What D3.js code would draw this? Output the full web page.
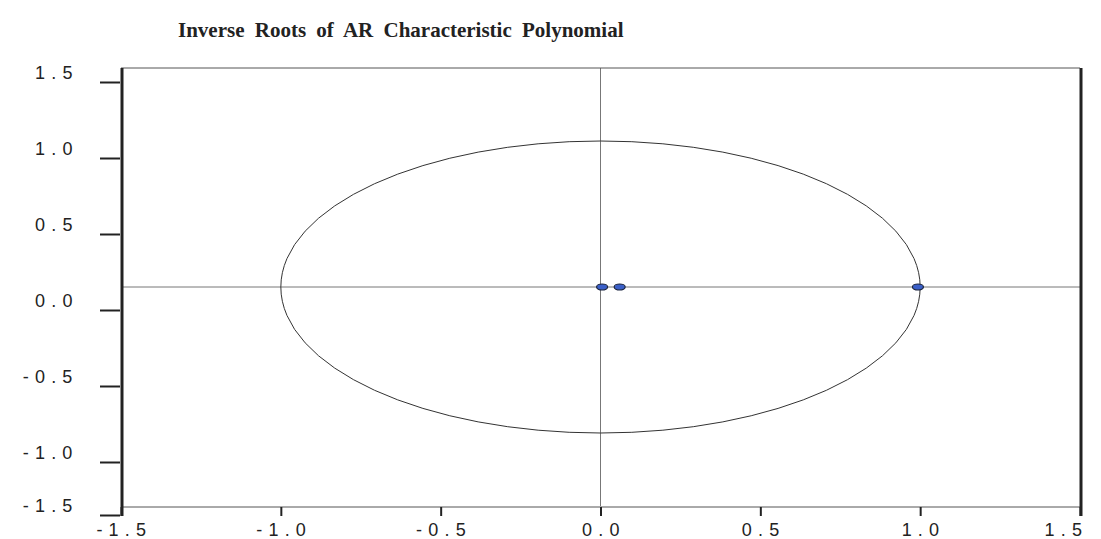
<!DOCTYPE html>
<html>
<head>
<meta charset="utf-8" />
<script src="https://cdn.jsdelivr.net/npm/d3@7"></script>
<style>
  body{ margin:0; background:#fff; }
  .tick text{ font-family:"Liberation Sans", Arial, sans-serif; font-size:18px; fill:#222; letter-spacing:0.6px; }
</style>
</head>
<body>
<script>
// - - - - - DATA - - - - - //
var title = "Inverse Roots of AR Characteristic Polynomial";
// inverse roots (real, imaginary)
var rootRe = [0.005, 0.06, 0.993];
var rootIm = [0, 0, 0];
var xTicks = [-1.5, -1.0, -0.5, 0.0, 0.5, 1.0, 1.5];
var yTicks = [-1.5, -1.0, -0.5, 0.0, 0.5, 1.0, 1.5];

// - - - - - CANVAS - - - - - //
var w = 1101, h = 539;
var svg = d3.select("body").append("svg")
  .attr("width", w)
  .attr("height", h);

// - - - - - SCALES - - - - - //
var x = d3.scaleLinear().domain([-1.5, 1.5]).range([121, 1080]);
var y = d3.scaleLinear().domain([-1.5, 1.5]).range([506, 68]);
// the y tick marks in the original sit off the data grid
var yTick = d3.scaleLinear().domain([-1.5, -1.0, 1.5]).range([515, 462, 82]);

//"1.5" -> "1 . 5"
var spaced = function(v){
  return v.toFixed(1).split("").join(" ");
};

// - - - - - TITLE - - - - - //
svg.append("text")
  .attr("x", 178)
  .attr("y", 37)
  .attr("font-family", "'Liberation Serif', 'Times New Roman', serif")
  .attr("font-weight", "bold")
  .attr("font-size", "21px")
  .attr("word-spacing", "5px")
  .attr("fill", "#222")
  .text(title);

// - - - - - ZERO LINES - - - - - //
svg.append("line")
  .attr("x1", x(0)).attr("x2", x(0))
  .attr("y1", y(1.5)).attr("y2", y(-1.5))
  .attr("stroke", "#777").attr("stroke-width", 1);
svg.append("line")
  .attr("x1", x(-1.5)).attr("x2", x(1.5))
  .attr("y1", y(0)).attr("y2", y(0))
  .attr("stroke", "#777").attr("stroke-width", 1);

// - - - - - UNIT CIRCLE - - - - - //
svg.append("ellipse")
  .attr("cx", x(0))
  .attr("cy", y(0))
  .attr("rx", x(1) - x(0))
  .attr("ry", y(0) - y(1))
  .attr("fill", "none")
  .attr("stroke", "#333")
  .attr("stroke-width", 1);

// - - - - - FRAME - - - - - //
svg.append("line")
  .attr("x1", x(-1.5)).attr("x2", x(1.5))
  .attr("y1", y(1.5)).attr("y2", y(1.5))
  .attr("stroke", "#555").attr("stroke-width", 1);
svg.append("line")
  .attr("x1", x(-1.5)).attr("x2", x(1.5))
  .attr("y1", y(-1.5) + 1).attr("y2", y(-1.5) + 1)
  .attr("stroke", "#555").attr("stroke-width", 1);
[x(-1.5) + 1, x(1.5) + 1].forEach(function(px){
  svg.append("line")
    .attr("x1", px).attr("x2", px)
    .attr("y1", y(1.5)).attr("y2", yTick(-1.5) + 1)
    .attr("stroke", "#222").attr("stroke-width", 3);
});

// - - - - - AXES - - - - - //
var xAxis = svg.append("g")
  .attr("transform", "translate(0," + (y(-1.5) + 1) + ")")
  .call(d3.axisBottom(x).tickValues(xTicks).tickSize(9).tickPadding(7).tickFormat(spaced));
xAxis.select(".domain").remove();
xAxis.selectAll(".tick line").attr("stroke", "#222").attr("stroke-width", 2);
//last label kept inside the frame, as in the original
xAxis.selectAll(".tick text")
  .filter(function(d){ return d === xTicks[xTicks.length - 1]; })
  .attr("text-anchor", "end")
  .attr("x", 2);

var yAxis = svg.append("g")
  .attr("transform", "translate(120,0)")
  .call(d3.axisLeft(yTick).tickValues(yTicks).tickSize(20).tickPadding(27).tickFormat(spaced));
yAxis.select(".domain").remove();
yAxis.selectAll(".tick line").attr("stroke", "#222").attr("stroke-width", 2);
yAxis.selectAll(".tick text").attr("dy", "-0.2em");

// - - - - - ROOTS - - - - - //
svg.selectAll("ellipse.root")
  .data(rootRe)
  .enter()
  .append("ellipse")
  .attr("class", "root")
  .attr("cx", function(d){ return x(d); })
  .attr("cy", function(d, i){ return y(rootIm[i]); })
  .attr("rx", 5.5)
  .attr("ry", 3)
  .attr("fill", "#3a5fc8")
  .attr("stroke", "#1a2440")
  .attr("stroke-width", 1.2);
</script>
</body>
</html>
